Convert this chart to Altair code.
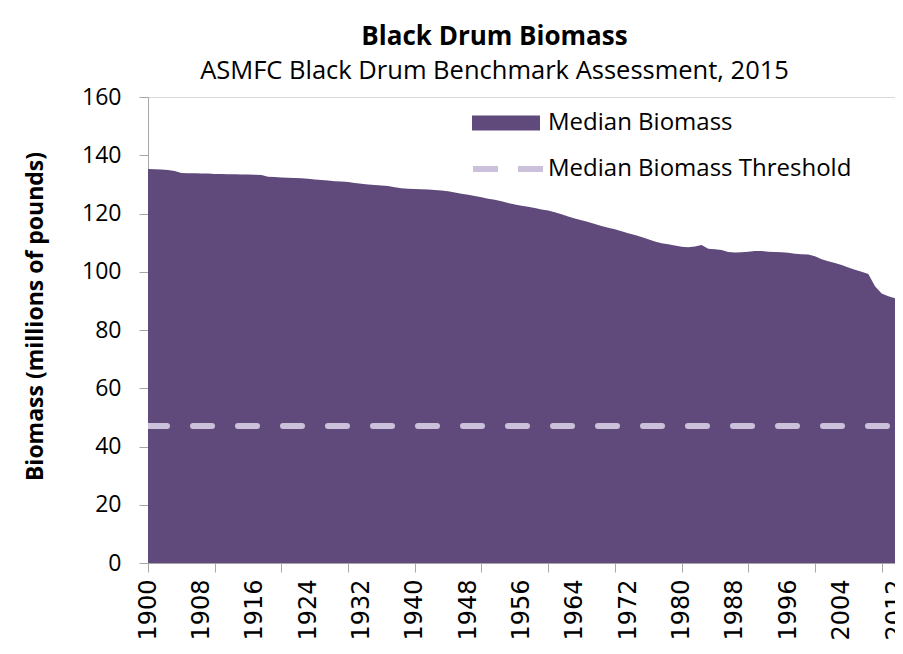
import altair as alt
import pandas as pd

# ---- data ----
years = list(range(1900, 2013))
median_biomass = [
    135.3, 135.2, 135.1, 134.9, 134.6, 133.9, 133.8, 133.8, 133.7, 133.7,  # 1900-1909
    133.6, 133.6, 133.5, 133.5, 133.4, 133.4, 133.3, 133.2, 132.6, 132.5,  # 1910-1919
    132.4, 132.3, 132.2, 132.1, 131.9, 131.7, 131.5, 131.3, 131.1, 131.0,  # 1920-1929
    130.8, 130.5, 130.2, 130.0, 129.8, 129.6, 129.4, 129.0, 128.7, 128.5,  # 1930-1939
    128.4, 128.3, 128.2, 128.1, 127.9, 127.6, 127.2, 126.8, 126.4, 126.0,  # 1940-1949
    125.6, 125.1, 124.7, 124.2, 123.6, 123.1, 122.7, 122.3, 121.9, 121.4,  # 1950-1959
    121.0, 120.4, 119.7, 119.0, 118.3, 117.7, 117.1, 116.4, 115.7, 115.1,  # 1960-1969
    114.6, 113.9, 113.2, 112.6, 111.9, 111.2, 110.4, 109.8, 109.4, 109.0,  # 1970-1979
    108.6, 108.4, 108.7, 109.2, 107.9, 107.7, 107.5, 106.8, 106.6, 106.7,  # 1980-1989
    106.9, 107.1, 107.1, 106.9, 106.8, 106.7, 106.5, 106.2, 106.0, 105.9,  # 1990-1999
    105.3, 104.3, 103.6, 103.0, 102.3, 101.5, 100.7, 100.0, 99.2, 95.0,    # 2000-2009
    92.5, 91.6, 90.9,                                                      # 2010-2012
]
threshold = 47.0
label_years = list(range(1900, 2013, 8))
tick_years = list(range(1900, 2013, 10))
y_ticks = [0, 20, 40, 60, 80, 100, 120, 140, 160]

SERIES_AREA = "Median Biomass"
SERIES_THR = "Median Biomass Threshold"

df = pd.DataFrame({"year": years, "biomass": median_biomass, "series": SERIES_AREA})
thr_df = pd.DataFrame({"start": [years[0]], "end": [years[-1]], "biomass": [threshold], "series": [SERIES_THR]})

PURPLE = "#604a7b"
LAVENDER = "#ccc1da"
AXIS_GRAY = "#a6a6a6"
FONT = "Open Sans"

x_scale = alt.Scale(domain=[years[0], years[-1]], nice=False, zero=False)
y_scale = alt.Scale(domain=[0, 160], nice=False)

y_axis = alt.Axis(values=y_ticks, title="Biomass (millions of pounds)", grid=False,
                  domainColor=AXIS_GRAY, tickColor=AXIS_GRAY, tickSize=9,
                  labelFont=FONT, labelFontSize=23, labelColor="black", labelPadding=18,
                  titleFont=FONT, titleFontSize=23, titleFontWeight="bold", titleColor="black",
                  titleX=-113, titleY=219, titleAlign="center", titleBaseline="middle")

area = alt.Chart(df).mark_area(color=PURPLE, opacity=1).encode(
    x=alt.X("year:Q", scale=x_scale,
            axis=alt.Axis(orient="bottom", values=label_years, format="d", labelAngle=-90,
                          ticks=False, domain=True, domainColor=AXIS_GRAY, domainWidth=1,
                          labelFont="DejaVu Sans", labelFontSize=24, labelColor="black",
                          labelPadding=16, title=None, grid=False, labelOverlap=False,
                          labelFlush=False)),
    y=alt.Y("biomass:Q", scale=y_scale, axis=y_axis),
    fill=alt.Fill("series:N", scale=alt.Scale(domain=[SERIES_AREA], range=[PURPLE]),
                  legend=alt.Legend(orient="none", legendX=324, legendY=-8, title=None,
                                    symbolType="M-1,-0.22L1,-0.22L1,0.22L-1,0.22Z",
                                    symbolSize=4624, symbolStrokeWidth=0, symbolOpacity=1,
                                    labelFont=FONT, labelFontSize=24, labelColor="black",
                                    labelOffset=8, labelLimit=0, padding=0)),
)

thr = alt.Chart(thr_df).mark_rule(strokeWidth=6, strokeDash=[19, 26], strokeCap="round", clip=True).encode(
    x=alt.X("start:Q", scale=x_scale,
            axis=alt.Axis(orient="bottom", values=tick_years, labels=False, ticks=True, tickSize=9,
                          tickColor=AXIS_GRAY, domain=False, title=None, grid=False)),
    x2="end:Q",
    y=alt.Y("biomass:Q", scale=y_scale, axis=y_axis),
    stroke=alt.Stroke("series:N", scale=alt.Scale(domain=[SERIES_THR], range=[LAVENDER]),
                      legend=alt.Legend(orient="none", legendX=322, legendY=34, title=None,
                                        symbolType="stroke", symbolSize=4900, symbolStrokeWidth=6,
                                        symbolDash=[25, 20], labelFont=FONT, labelFontSize=24,
                                        labelColor="black", labelOffset=2, labelLimit=0, padding=0)),
)

chart = alt.layer(area, thr).resolve_scale(
    fill="independent", stroke="independent"
).resolve_axis(x="independent").properties(
    width=747,
    height=466,
    autosize=alt.AutoSizeParams(type="none"),
    padding={"left": 140, "top": 89, "right": 0, "bottom": 83},
    title=alt.TitleParams(
        text="Black Drum Biomass",
        subtitle="ASMFC Black Drum Benchmark Assessment, 2015",
        font=FONT, fontSize=26, fontWeight="bold", color="black",
        subtitleFont=FONT, subtitleFontSize=25.5, subtitleColor="black", subtitlePadding=9,
        anchor="middle", frame="group", offset=2, dx=-27,
    ),
).configure_view(stroke="#d9d9d9", strokeWidth=1)

chart.save("out.html", embed_options={"renderer": "svg", "actions": False})
